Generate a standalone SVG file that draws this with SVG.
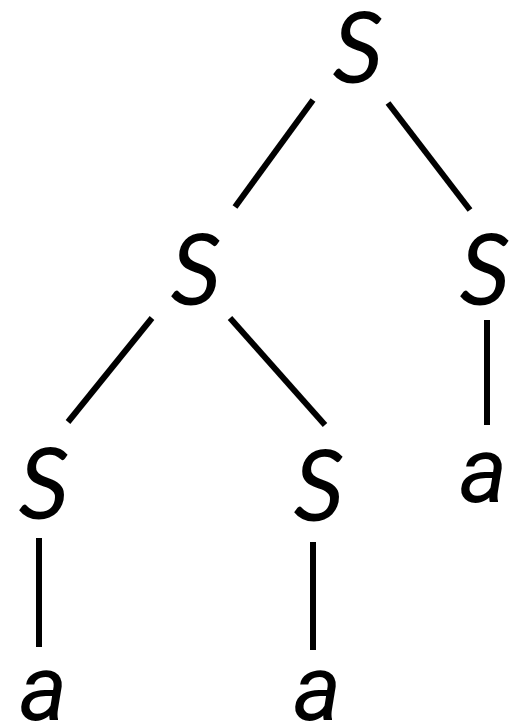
<svg xmlns="http://www.w3.org/2000/svg" width="509" height="727" viewBox="0 0 509 727">
<style>
text{font-family:Lato,"Open Sans",sans-serif;font-style:italic;font-size:100px;fill:#000;text-anchor:middle}
text.t{font-family:Roboto,"DejaVu Sans",sans-serif;font-size:92px}
.e line{stroke:#000;stroke-width:6}
</style>
<rect width="509" height="727" fill="#fff"/>
<g class="e" id="edges">
<line x1="313" y1="100" x2="235" y2="207"/>
<line x1="388" y1="103" x2="470" y2="210"/>
<line x1="152" y1="318" x2="68" y2="422"/>
<line x1="230" y1="318" x2="325" y2="425"/>
<line x1="487" y1="320" x2="487" y2="425"/>
<line x1="39" y1="538" x2="39" y2="647"/>
<line x1="313" y1="542" x2="313" y2="650"/>
</g>
<g id="n1"><text x="358" y="83">S</text></g>
<g id="n2"><text x="196" y="305">S</text></g>
<g id="n3"><text x="485" y="305">S</text></g>
<g id="n4"><text x="44" y="519">S</text></g>
<g id="n5"><text x="319" y="521">S</text></g>
<g id="n6"><text class="t" x="483" y="502">a</text></g>
<g id="n7"><text class="t" x="43" y="720">a</text></g>
<g id="n8"><text class="t" x="317" y="720">a</text></g>
</svg>
